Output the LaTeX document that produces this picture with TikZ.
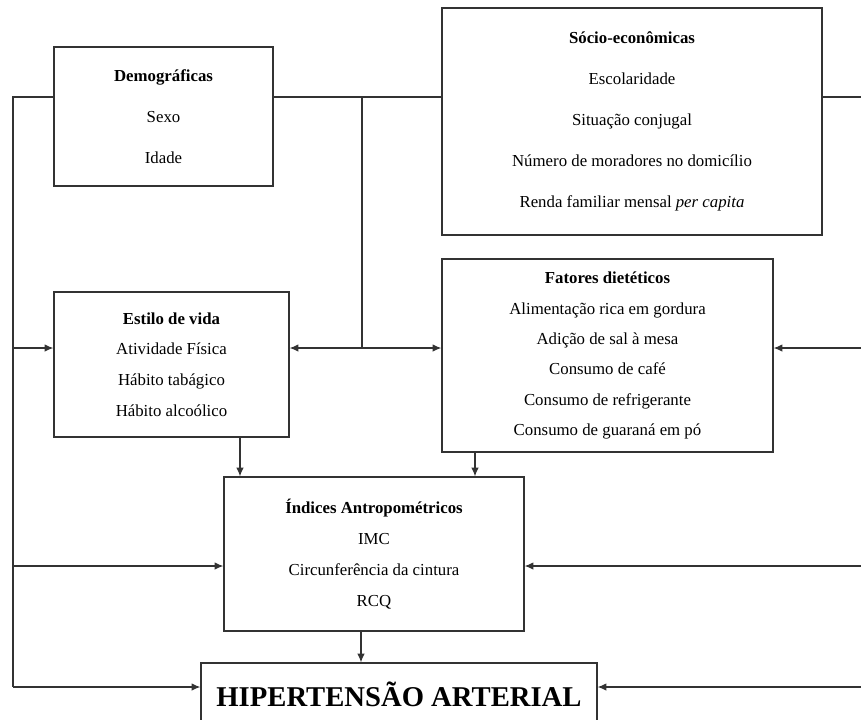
\documentclass[tikz,border=0pt]{standalone}
\usepackage{fontspec}
\setmainfont{Liberation Serif}
\usetikzlibrary{arrows.meta}
\tikzset{
  box/.style={draw=black!80, line width=0.9pt, align=center, inner sep=0pt, fill=white},
  link/.style={draw=black!80, line width=0.9pt},
  arr/.style={link, -{Latex[length=6.5pt,width=5.5pt]}}
}
\newcommand{\bodyfont}[1]{\fontsize{12.6}{#1}\selectfont}
\begin{document}
\begin{tikzpicture}[x=0.75pt,y=-0.75pt]
\useasboundingbox (0,0) rectangle (861,719);
\node[box, minimum width=164.25pt, minimum height=104.25pt, font=\bodyfont{31}] (demo) at (163.5,116.5)
  {\textbf{Demográficas}\\ Sexo\\ Idade};
\node[box, minimum width=285pt, minimum height=170.25pt, font=\bodyfont{30.75}] (socio) at (632,121.5)
  {\textbf{Sócio-econômicas}\\ Escolaridade\\ Situação conjugal\\ Número de moradores no domicílio\\ Renda familiar mensal \textit{per capita}};
\node[box, minimum width=176.25pt, minimum height=108.75pt, font=\bodyfont{23}] (estilo) at (171.5,364.5)
  {\textbf{Estilo de vida}\\ Atividade Física\\ Hábito tabágico\\ Hábito alcoólico};
\node[box, minimum width=248.25pt, minimum height=144.75pt, font=\bodyfont{22.75}] (fatores) at (607.5,355.5)
  {\textbf{Fatores dietéticos}\\ Alimentação rica em gordura\\ Adição de sal à mesa\\ Consumo de café\\ Consumo de refrigerante\\ Consumo de guaraná em pó};
\node[box, minimum width=225pt, minimum height=115.5pt, font=\bodyfont{23.25}] (indices) at (374,554)
  {\textbf{Índices Antropométricos}\\ IMC\\ Circunferência da cintura\\ RCQ};
\node[box, minimum width=297pt, minimum height=46.5pt, font=\fontsize{21.5}{25}\selectfont\bfseries] (hiper) at (399,694)
  {HIPERTENSÃO ARTERIAL};
\coordinate (tl) at (13,97);
\coordinate (tr) at (864,97);
\coordinate (mid) at (362,97);
\coordinate (midlow) at (362,348);
\coordinate (bl) at (13,687);
\coordinate (br) at (864,687);
\coordinate (r1) at (0,566);
\coordinate (c1) at (240,0);
\coordinate (c2) at (475,0);
\coordinate (c3) at (361,0);
\draw[link] (demo.west |- tl) -- (tl) -- (bl);
\draw[link] (demo.east |- mid) -- (socio.west |- mid);
\draw[link] (socio.east |- tr) -- (tr) -- (br);
\draw[link] (mid) -- (midlow);
\draw[arr] (tl |- midlow) -- (estilo.west |- midlow);
\draw[arr] (midlow) -- (estilo.east |- midlow);
\draw[arr] (midlow) -- (fatores.west |- midlow);
\draw[arr] (tr |- midlow) -- (fatores.east |- midlow);
\draw[arr] (estilo.south -| c1) -- (indices.north -| c1);
\draw[arr] (fatores.south -| c2) -- (indices.north -| c2);
\draw[arr] (tl |- r1) -- (indices.west |- r1);
\draw[arr] (tr |- r1) -- (indices.east |- r1);
\draw[arr] (indices.south -| c3) -- (hiper.north -| c3);
\draw[arr] (bl) -- (hiper.west |- bl);
\draw[arr] (br) -- (hiper.east |- br);
\end{tikzpicture}
\end{document}
